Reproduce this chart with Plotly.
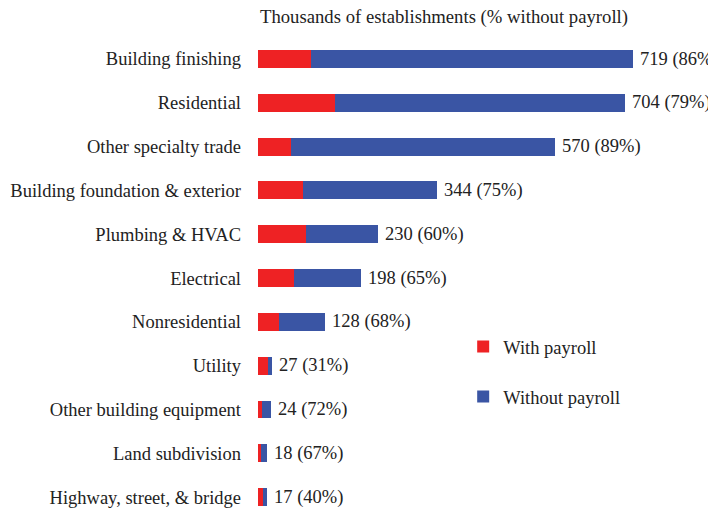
import plotly.graph_objects as go

categories = ["Building finishing", "Residential", "Other specialty trade",
              "Building foundation & exterior", "Plumbing & HVAC", "Electrical",
              "Nonresidential", "Utility", "Other building equipment",
              "Land subdivision", "Highway, street, & bridge"]
with_payroll = [101, 148, 63, 86, 92, 69, 41, 19, 7, 6, 10]
without_payroll = [618, 556, 507, 258, 138, 129, 87, 8, 17, 12, 7]
totals = [719, 704, 570, 344, 230, 198, 128, 27, 24, 18, 17]
pct_without = [86, 79, 89, 75, 60, 65, 68, 31, 72, 67, 40]

RED = "#EE2224"
BLUE = "#3A55A4"
FONT = "Liberation Serif"
FS = 18.5

fig = go.Figure()
fig.add_trace(go.Bar(y=categories, x=with_payroll, orientation="h", name="With payroll",
                     marker=dict(color=RED, line=dict(width=0)), legendgroup="a"))
fig.add_trace(go.Bar(y=categories, x=without_payroll, orientation="h", name="Without payroll",
                     marker=dict(color=BLUE, line=dict(width=0)), legendgroup="b"))

for c, t, p in zip(categories, totals, pct_without):
    fig.add_annotation(x=t, y=c, text=f"{t} ({p}%)", showarrow=False,
                       xanchor="left", xshift=5, font=dict(size=FS, color="#222", family=FONT))

fig.add_annotation(x=0, y=1, xref="paper", yref="paper", yshift=0,
                   text="Thousands of establishments (% without payroll)",
                   showarrow=False, xanchor="left", yanchor="bottom",
                   font=dict(size=18.7, color="#222", family=FONT))

fig.update_layout(
    width=708, height=504,
    barmode="stack", bargap=0.59,
    margin=dict(l=250, r=0, t=22, b=0, autoexpand=False),
    plot_bgcolor="white", paper_bgcolor="white",
    font=dict(family=FONT, size=FS, color="#222"),
    xaxis=dict(range=[0, 878], visible=False, automargin=False),
    yaxis=dict(range=[10.34, -0.662], showgrid=False, showline=False, ticks="",
               automargin=False,
               ticklabelstandoff=16, tickfont=dict(size=FS, family=FONT, color="#222")),
    legend=dict(x=0.448, y=0.382, xanchor="left", yanchor="top",
                traceorder="grouped", tracegroupgap=23,
                font=dict(size=FS, family=FONT, color="#222"), bgcolor="rgba(0,0,0,0)"),
)

fig.write_html("out.html")
